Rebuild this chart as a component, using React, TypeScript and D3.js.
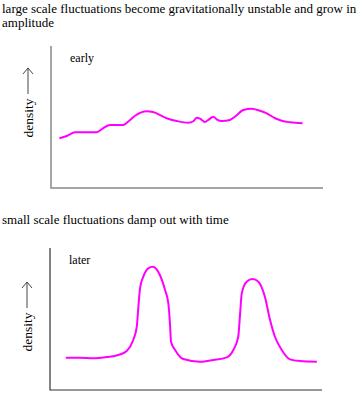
import React from "react";
import * as d3 from "d3";

const earlyX = [3.1, 5.8, 8.8, 16.8, 19.1, 21.7, 26.5, 28.3, 30.9, 35.2, 37.5, 42.5, 46.2, 50.5, 52.3, 53.6, 54.8, 56.6, 57.8, 59.7, 60.9, 62.8, 65.8, 67.6, 70.7, 73.8, 76.8, 79.3, 82.4, 84.8, 87.9, 92.5];
const earlyY = [35.0, 36.6, 39.2, 39.2, 42.0, 44.4, 44.4, 46.7, 50.9, 54.0, 53.5, 49.1, 47.2, 46.0, 47.0, 49.5, 48.8, 46.5, 47.9, 50.2, 48.4, 47.2, 47.9, 50.2, 54.9, 55.8, 54.4, 52.6, 49.1, 47.4, 46.3, 45.6];

const laterX = [5.8, 11.0, 15.9, 20.8, 25.1, 28.2, 30.6, 31.9, 32.5, 33.1, 34.3, 36.1, 37.8, 39.2, 40.4, 42.3, 43.5, 44.1, 44.5, 46.0, 49.0, 55.1, 60.0, 65.0, 67.4, 69.2, 69.9, 70.5, 72.3, 74.5, 76.6, 79.0, 80.9, 82.7, 85.2, 88.2, 91.9, 98.1];
const laterY = [22.7, 22.7, 22.3, 23.2, 24.6, 27.5, 35.2, 44.6, 58.7, 71.6, 79.8, 85.7, 86.8, 85.0, 81.0, 70.4, 61.1, 47.0, 34.0, 28.2, 21.8, 19.9, 21.1, 23.0, 28.2, 37.5, 54.0, 68.1, 76.3, 78.2, 76.3, 65.7, 49.3, 37.5, 28.2, 21.6, 20.4, 19.9];

const titles = [
  "large scale fluctuations become gravitationally unstable and grow in",
  "amplitude",
  "small scale fluctuations damp out with time",
];
const panelLabels = ["early", "later"];
const yLabel = "density";

const serif = "'Liberation Serif', 'Times New Roman', serif";

type PanelProps = {
  xs: number[];
  ys: number[];
  left: number;
  top: number;
  label: string;
  axisColor: string;
  axisWidth: number;
  labelAt: number;
};

function Panel({ xs, ys, left, top, label, axisColor, axisWidth, labelAt }: PanelProps) {
  const W = 272;
  const H = 142;
  const x = d3.scaleLinear().domain([0, 100]).range([0, W]);
  const y = d3.scaleLinear().domain([0, 100]).range([H, 0]);
  const pts: [number, number][] = xs.map((v, i) => [v, ys[i]]);
  const line = d3
    .line<[number, number]>()
    .x((d) => x(d[0]))
    .y((d) => y(d[1]))
    .curve(d3.curveMonotoneX);
  const labCx = -23;
  const labCy = y(labelAt);
  return (
    <g transform={`translate(${left},${top})`}>
      <path
        d={`M0,0V${H}H${W}`}
        fill="none"
        stroke={axisColor}
        strokeWidth={axisWidth}
      />
      <text x={19} y={16} fontFamily={serif} fontSize={12} fill="#000">
        {label}
      </text>
      <path d={line(pts) || ""} fill="none" stroke="#ff00ff" strokeWidth={2} />
      <g transform={`translate(${labCx},${labCy}) rotate(-90)`}>
        <text
          x={-18}
          y={4.5}
          fontFamily={serif}
          fontSize={13.5}
          textAnchor="middle"
          fill="#000"
        >
          {yLabel}
        </text>
        <path d="M6,0H32M26,-5L32,0L26,5" fill="none" stroke="#444" strokeWidth={1} />
      </g>
    </g>
  );
}

export default function App() {
  return (
    <svg
      width={358}
      height={396}
      style={{ position: "absolute", left: 0, top: 0, background: "#fff" }}
    >
      <rect width={358} height={396} fill="#fff" />
      <text x={2} y={13} fontFamily={serif} fontSize={13} fill="#000">
        {titles[0]}
      </text>
      <text x={2} y={27} fontFamily={serif} fontSize={13} fill="#000">
        {titles[1]}
      </text>
      <text x={2} y={224} fontFamily={serif} fontSize={13} fill="#000">
        {titles[2]}
      </text>
      <Panel xs={earlyX} ys={earlyY} left={51} top={46} label={panelLabels[0]} axisColor="#888" axisWidth={1.5} labelAt={62} />
      <Panel xs={laterX} ys={laterY} left={50} top={248} label={panelLabels[1]} axisColor="#333" axisWidth={1.2} labelAt={53.5} />
    </svg>
  );
}
